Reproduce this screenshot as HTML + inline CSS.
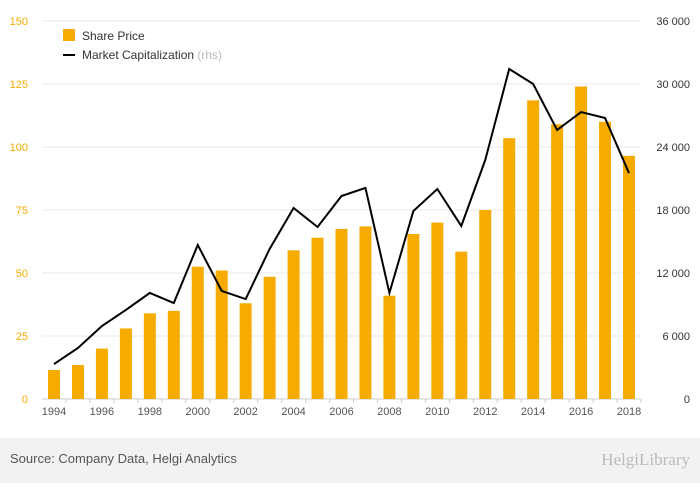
<!DOCTYPE html>
<html><head><meta charset="utf-8"><style>
body{margin:0;background:#fff;width:700px;height:483px;overflow:hidden;font-family:"Liberation Sans",sans-serif}
</style></head><body>
<svg id="c" width="700" height="483" xmlns="http://www.w3.org/2000/svg">
<rect x="0" y="438" width="700" height="45" fill="#f2f2f2"/>
<text x="10" y="463" font-size="13" fill="#555">Source: Company Data, Helgi Analytics</text>
<text x="690" y="465" font-size="17" fill="#bbb" text-anchor="end" font-family="Liberation Serif, serif">HelgiLibrary</text>
<g id="grid"></g><g id="bars"></g><g id="line"></g><g id="axes"></g>
<rect x="63" y="29" width="12" height="12" fill="#f5ab00"/>
<text x="82" y="40" font-size="12" fill="#333">Share Price</text>
<line x1="63" y1="55" x2="75" y2="55" stroke="#000" stroke-width="2"/>
<text x="82" y="59" font-size="12" fill="#333">Market Capitalization <tspan fill="#bbb">(rhs)</tspan></text>
</svg>
<script>
const years=[1994,1995,1996,1997,1998,1999,2000,2001,2002,2003,2004,2005,2006,2007,2008,2009,2010,2011,2012,2013,2014,2015,2016,2017,2018];
const sharePrice=[11.5,13.5,20,28,34,35,52.5,51,38,48.5,59,64,67.5,68.5,41,65.5,70,58.5,75,103.5,118.5,109,124,110,96.5];
const marketCap=[3330,4860,6950,8480,10100,9140,14670,10290,9520,14290,18190,16380,19330,20100,10100,17900,20000,16480,22760,31430,30000,25620,27330,26760,21520];
const leftTicks=[0,25,50,75,100,125,150];
const rightTicks=[0,6000,12000,18000,24000,30000,36000];
const rightLabels=["0","6 000","12 000","18 000","24 000","30 000","36 000"];
const NS="http://www.w3.org/2000/svg";
const y0=399,y1=21,xL=42,xR=640;
const yL=v=>y0-(v/150)*(y0-y1);
const yR=v=>y0-(v/36000)*(y0-y1);
const xS=i=>54+i*(629-54)/(years.length-1);
function mk(t,a,p){const e=document.createElementNS(NS,t);for(const k in a)e.setAttribute(k,a[k]);document.getElementById(p).appendChild(e);return e;}
leftTicks.forEach((v,i)=>{
 const g=mk('line',{x1:xL,x2:xR,y1:yL(v),y2:yL(v),stroke:i==0?'#ccc':'#e8e8e8'},'grid');
 
 
 const t=mk('text',{x:28,y:yL(v)+4,'font-size':11,fill:'#f5ab00','text-anchor':'end'},'axes');t.textContent=v;
 
 
});
rightTicks.forEach((v,i)=>{
 const t=mk('text',{x:690,y:yR(v)+4,'font-size':11,fill:'#333','text-anchor':'end'},'axes');t.textContent=rightLabels[i];
 
 
});
years.forEach((yr,i)=>{
 const b=mk('rect',{x:xS(i)-6,y:yL(sharePrice[i]),width:12,height:y0-yL(sharePrice[i]),fill:'#f5ab00'},'bars');
 
 
 if(i%2==0){const t=mk('text',{x:xS(i),y:415,'font-size':11,fill:'#555','text-anchor':'middle'},'axes');t.textContent=yr;
 
 }
 const tk=mk('line',{x1:xS(i)+12,x2:xS(i)+12,y1:y0,y2:y0+4,stroke:'#ccc'},'axes');
 
 
});
const l=mk('polyline',{points:marketCap.map((v,i)=>xS(i)+','+yR(v)).join(' '),fill:'none',stroke:'#000','stroke-width':2},'line');


</script>
</body></html>
